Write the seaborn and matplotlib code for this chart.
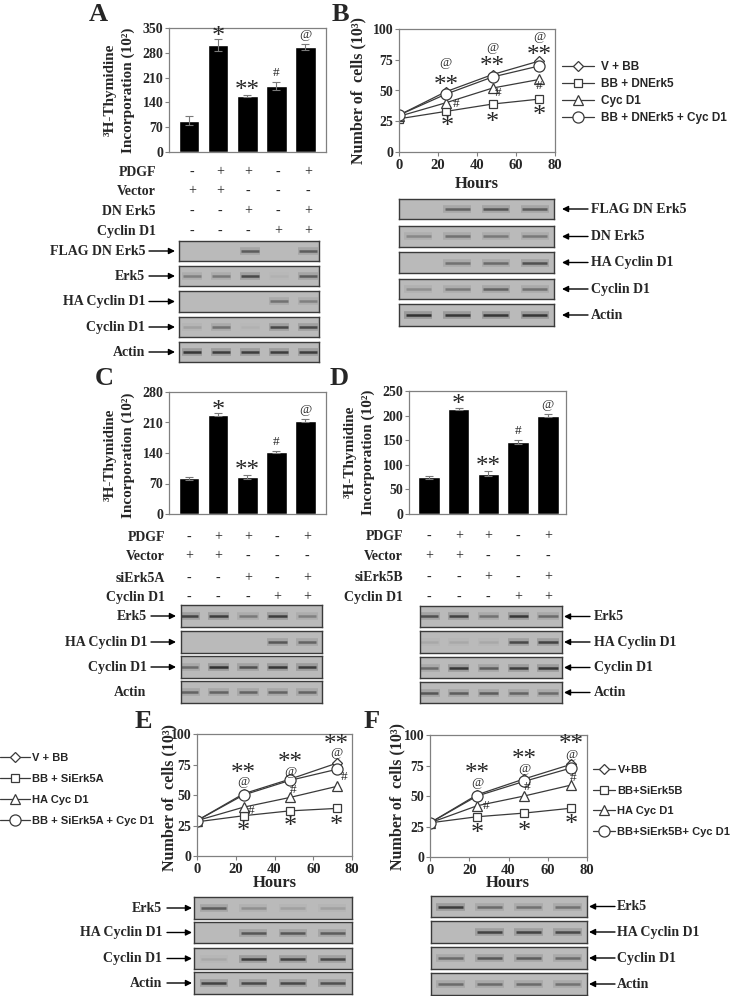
import numpy as np
import matplotlib.pyplot as plt
import seaborn as sns

sns.set_style("ticks")
plt.rcParams['font.family'] = ['Liberation Serif', 'DejaVu Serif']

W, H = 742, 996

# ---- data ----
signs_a = {'PDGF': '-++-+', 'Vector': '++---', 'DN Erk5': '--+-+', 'Cyclin D1': '---++'}
signs_c = {'PDGF': '-++-+', 'Vector': '++---', 'siErk5A': '--+-+', 'Cyclin D1': '---++'}
signs_d = {'PDGF': '-++-+', 'Vector': '++---', 'siErk5B': '--+-+', 'Cyclin D1': '---++'}
bar_marks = ['', '*', '**', '#', '@']

a_vals = [88, 302, 158, 186, 296]
a_errs = [13, 16, 3, 11, 9]
c_vals = [82, 228, 85, 143, 214]
c_errs = [4, 3, 5, 2, 4]
d_vals = [75, 213, 82, 146, 200]
d_errs = [3, 2, 5, 4, 3]

hours = [0, 24, 48, 72]
b_names = ['V + BB', 'BB + DNErk5', 'Cyc D1', 'BB + DNErk5 + Cyc D1']
b_vals = [[30, 49, 63, 74], [27, 33, 39, 43], [29, 40, 52, 59], [30, 47, 61, 70]]
e_names = ['V + BB', 'BB + SiErk5A', 'HA Cyc D1', 'BB + SiErk5A + Cyc D1']
e_vals = [[29, 51, 63, 76], [28, 33, 37, 39], [29, 40, 48, 57], [29, 50, 62, 71]]
f_names = ['V+BB', 'BB+SiErk5B', 'HA Cyc D1', 'BB+SiErk5B+ Cyc D1']
f_vals = [[28, 51, 64, 76], [28, 33, 36, 40], [28, 42, 50, 59], [28, 50, 62, 73]]
markers = ['D', 's', '^', 'o']
msizes = [5.5, 6, 7.5, 8]

# significance marks: (text, series, time index, dx px, dy px)
b_sig = [('@', 0, 1, 0, 29), ('**', 0, 1, 0, 11), ('#', 2, 1, 10, -1), ('*', 1, 1, 2, -10),
         ('@', 0, 2, 0, 27), ('**', 0, 2, 0, 13), ('#', 2, 2, 5, -5), ('*', 1, 2, 0, -14),
         ('@', 0, 3, 0, 24), ('**', 0, 3, 0, 10), ('#', 2, 3, 0, -7), ('*', 1, 3, 0, -12)]
e_sig = [('**', 0, 1, 0, 25), ('@', 0, 1, 0, 12), ('#', 2, 1, 8, -4), ('*', 1, 1, 0, -11),
         ('**', 0, 2, 0, 21), ('@', 0, 2, 0, 7), ('#', 2, 2, 3, 7), ('*', 1, 2, 0, -11),
         ('**', 0, 3, 0, 23), ('@', 0, 3, 0, 10), ('#', 2, 3, 8, 9), ('*', 1, 3, 0, -12)]
f_sig = [('**', 0, 1, 0, 26), ('@', 0, 1, 0, 12), ('#', 2, 1, 9, 0), ('*', 1, 1, 0, -12),
         ('**', 0, 2, 0, 24), ('@', 0, 2, 0, 10), ('#', 2, 2, 3, 9), ('*', 1, 2, 0, -14),
         ('**', 0, 3, 0, 24), ('@', 0, 3, 0, 9), ('#', 2, 3, 2, 7), ('*', 1, 3, 0, -12)]

# western blot band intensities (0-1) per lane
blot_a = {'FLAG DN Erk5': [0, 0, 0.6, 0, 0.6], 'Erk5': [0.35, 0.4, 0.75, 0.05, 0.6],
          'HA Cyclin D1': [0, 0, 0, 0.45, 0.35], 'Cyclin D1': [0.15, 0.45, 0.05, 0.75, 0.75],
          'Actin': [0.9, 0.85, 0.85, 0.85, 0.85]}
blot_b = {'FLAG DN Erk5': [0, 0.55, 0.65, 0.6], 'DN Erk5': [0.3, 0.45, 0.4, 0.4],
          'HA Cyclin D1': [0, 0.45, 0.5, 0.7], 'Cyclin D1': [0.25, 0.4, 0.55, 0.45],
          'Actin': [0.95, 0.9, 0.9, 0.9]}
blot_c = {'Erk5': [0.8, 0.85, 0.4, 0.85, 0.35], 'HA Cyclin D1': [0, 0, 0, 0.65, 0.55],
          'Cyclin D1': [0.5, 0.95, 0.7, 0.9, 0.85], 'Actin': [0.55, 0.55, 0.55, 0.55, 0.55]}
blot_d = {'Erk5': [0.7, 0.8, 0.45, 0.9, 0.5], 'HA Cyclin D1': [0.1, 0.1, 0.1, 0.75, 0.8],
          'Cyclin D1': [0.5, 0.9, 0.6, 0.85, 0.9], 'Actin': [0.65, 0.6, 0.6, 0.55, 0.5]}
blot_e = {'Erk5': [0.6, 0.25, 0.15, 0.15], 'HA Cyclin D1': [0, 0.65, 0.65, 0.6],
          'Cyclin D1': [0.1, 0.85, 0.8, 0.75], 'Actin': [0.8, 0.75, 0.75, 0.7]}
blot_f = {'Erk5': [0.85, 0.5, 0.45, 0.45], 'HA Cyclin D1': [0, 0.8, 0.8, 0.75],
          'Cyclin D1': [0.5, 0.65, 0.6, 0.5], 'Actin': [0.5, 0.5, 0.5, 0.45]}

fig = plt.figure(figsize=(W / 100, H / 100), dpi=100)
fig.patch.set_facecolor('white')
ov = fig.add_axes([0, 0, 1, 1], zorder=10)
ov.set_xlim(0, W)
ov.set_ylim(H, 0)
ov.axis('off')

SERIF = dict(family='Liberation Serif', weight='bold')
SANS = dict(family='Liberation Sans', weight='bold')


def rect(l, t, r, b):
    return [l / W, 1 - b / H, (r - l) / W, (b - t) / H]


def mark(ax, txt, xy, dx, dy):
    # stars sit high in the text box, so pull them down to centre the glyph
    if '*' in txt:
        fs = 19 if txt == '*' else 18
        dy -= 0.2 * fs * 100 / 72
    else:
        fs = 9.5
    ax.annotate(txt, xy, xytext=(dx, dy), textcoords='offset pixels', ha='center',
                va='center', fontsize=fs, family='Liberation Serif', annotation_clip=False)


def style_axes(ax, yticks):
    for s in ax.spines.values():
        s.set_color('#808080')
        s.set_linewidth(0.9)
    ax.set_yticks(yticks)
    ax.tick_params(axis='y', direction='out', length=3, width=0.8, color='#808080', pad=1)
    for t in ax.get_yticklabels():
        t.set_fontproperties(dict(SERIF, size=10))


def bar_panel(box, vals, errs, yticks, xlim):
    ax = fig.add_axes(rect(*box))
    idx = list(range(len(vals)))
    sns.barplot(x=idx, y=vals, color='black', saturation=1, width=0.72, errorbar=None, ax=ax)
    ax.errorbar(idx, vals, yerr=errs, fmt='none', ecolor='#7a7a7a', elinewidth=0.8,
                capsize=3, capthick=0.8)
    ax.set_xlim(*xlim)
    ax.set_ylim(yticks[0], yticks[-1])
    ax.set_xticks([])
    ax.set_xlabel('')
    style_axes(ax, yticks)
    off = {'*': 8, '**': 9, '#': 9, '@': 9}
    for i, m in enumerate(bar_marks):
        if m:
            mark(ax, m, (i, vals[i] + errs[i]), 0, off[m])
    return ax


def line_panel(box, vals, names, sig, leg_xy, leg_kw):
    ax = fig.add_axes(rect(*box))
    for v, n, mk, ms in zip(vals, names, markers, msizes):
        sns.lineplot(x=hours, y=v, ax=ax, color='#3a3a3a', lw=0.9, marker=mk, ms=ms,
                     markerfacecolor='white', markeredgecolor='#3a3a3a',
                     markeredgewidth=0.9, label=n)
    ax.set_xlim(0, 80)
    ax.set_ylim(0, 100)
    ax.set_xticks([0, 20, 40, 60, 80])
    style_axes(ax, [0, 25, 50, 75, 100])
    ax.tick_params(axis='x', direction='out', length=3, width=0.8, color='#808080', pad=2)
    for t in ax.get_xticklabels():
        t.set_fontproperties(dict(SERIF, size=10.5))
    for txt, s, ti, dx, dy in sig:
        mark(ax, txt, (hours[ti], vals[s][ti]), dx, dy)
    h, l = ax.get_legend_handles_labels()
    ax.legend(h, l, loc='upper left', bbox_to_anchor=(leg_xy[0] / W, 1 - leg_xy[1] / H),
              bbox_transform=fig.transFigure, frameon=False, borderpad=0, borderaxespad=0,
              prop=dict(SANS, size=leg_kw['size']), handlelength=leg_kw['hl'],
              handletextpad=leg_kw['pad'], labelspacing=leg_kw['sp'])
    return ax


def table(signs, rows_y, cols_x, label_x):
    for (name, s), y in zip(signs.items(), rows_y):
        ov.text(label_x, y, name, ha='right', va='center', fontsize=10, **SERIF)
        for ch, x in zip(s, cols_x):
            ov.text(x, y, ch, ha='center', va='center', fontsize=10, family='Liberation Serif')


def blot(xl, xr, rows, data, xlim, bg):
    for (t, b), (name, lanes) in zip(rows, data.items()):
        ax = fig.add_axes(rect(xl, t, xr, b))
        ax.set_facecolor(bg)
        for i, v in enumerate(lanes):
            ax.hlines(0, i - 0.36, i + 0.36, color='#202020', alpha=v * 0.22, lw=5.5)
            ax.hlines(0, i - 0.32, i + 0.32, color='#202020', alpha=v * 0.9, lw=1.8)
        ax.set_xlim(*xlim)
        ax.set_ylim(-1, 1)
        ax.set_xticks([])
        ax.set_yticks([])
        for s in ax.spines.values():
            s.set_color('#3a3a3a')
            s.set_linewidth(1)


def left_labels(rows, names, text_r, arr_l, arr_r, arrows=True):
    for (t, b), n in zip(rows, names):
        y = (t + b) / 2
        ov.text(text_r, y, n, ha='right', va='center', fontsize=10, **SERIF)
        if arrows:
            ov.annotate('', xy=(arr_r, y), xytext=(arr_l, y),
                        arrowprops=dict(arrowstyle='-|>', color='black', lw=1, mutation_scale=9,
                                        shrinkA=0, shrinkB=0))


def right_labels(rows, names, arr_l, arr_r, text_l):
    for (t, b), n in zip(rows, names):
        y = (t + b) / 2
        ov.text(text_l, y, n, ha='left', va='center', fontsize=10, **SERIF)
        ov.annotate('', xy=(arr_l, y), xytext=(arr_r, y),
                    arrowprops=dict(arrowstyle='-|>', color='black', lw=1, mutation_scale=9,
                                    shrinkA=0, shrinkB=0))


# ---- Panel A ----
bar_panel((169, 28, 326, 152), a_vals, a_errs, [0, 70, 140, 210, 280, 350], (-0.69, 4.72))
table(signs_a, [172, 191, 211, 231], [192, 220, 248, 278, 308], 156)
rows_a = [(241, 261), (266, 286), (291, 312), (317, 337), (342, 362)]
blot(179, 319, rows_a, blot_a, (-0.45, 4.38), '#bababa')
left_labels(rows_a, list(blot_a), 145, 149, 175)

# ---- Panel B ----
line_panel((399, 29, 555, 152), b_vals, b_names, b_sig, (562, 61),
           dict(size=8.5, hl=2.7, pad=0.6, sp=0.42))
rows_b = [(199, 219), (226, 247), (252, 273), (279, 299), (304, 326)]
blot(399, 554, rows_b, blot_b, (-0.5, 3.5), '#bababa')
right_labels(rows_b, list(blot_b), 562, 588, 591)

# ---- Panel C ----
bar_panel((169, 392, 326, 514), c_vals, c_errs, [0, 70, 140, 210, 280], (-0.69, 4.72))
table(signs_c, [537, 556, 578, 597], [189, 218, 248, 277, 307], 165)
rows_c = [(605, 627), (631, 653), (656, 678), (681, 703)]
blot(181, 322, rows_c, blot_c, (-0.27, 4.51), '#bababa')
left_labels(rows_c[:3], list(blot_c)[:3], 147, 151, 176)
ov.text(130, 692, 'Actin', ha='center', va='center', fontsize=10, **SERIF)

# ---- Panel D ----
bar_panel((409, 391, 566, 514), d_vals, d_errs, [0, 50, 100, 150, 200, 250], (-0.67, 4.61))
table(signs_d, [536, 556, 577, 597], [429, 459, 488, 518, 548], 403)
rows_d = [(606, 627), (631, 653), (657, 678), (682, 703)]
blot(420, 562, rows_d, blot_d, (-0.3, 4.47), '#bababa')
right_labels(rows_d, list(blot_d), 564, 590, 594)

# ---- Panel E ----
line_panel((197, 734, 352, 856), e_vals, e_names, e_sig, (0, 753),
           dict(size=8, hl=2.7, pad=0.2, sp=1.0))
rows_e = [(897, 919), (922, 943), (948, 969), (972, 994)]
blot(194, 352, rows_e, blot_e, (-0.5, 3.5), '#bababa')
left_labels(rows_e, list(blot_e), 162, 167, 192)

# ---- Panel F ----
line_panel((430, 735, 587, 857), f_vals, f_names, f_sig, (593, 765),
           dict(size=8, hl=2.0, pad=0.2, sp=0.95))
rows_f = [(896, 917), (921, 943), (947, 969), (973, 995)]
blot(431, 587, rows_f, blot_f, (-0.5, 3.5), '#bababa')
right_labels(rows_f, list(blot_f), 589, 615, 617)

# ---- axis titles & panel letters ----
for x1, x2, yc in [(110, 128, 90), (110, 128, 455), (350, 368, 452)]:
    ov.text(x1, yc, '³H-Thymidine', rotation=90, ha='center', va='center', fontsize=11, **SERIF)
    ov.text(x2, yc, 'Incorporation (10²)', rotation=90, ha='center', va='center', fontsize=11, **SERIF)
for x, yc in [(358, 90), (169, 797), (397, 796)]:
    ov.text(x, yc, 'Number of  cells (10³)', rotation=90, ha='center', va='center', fontsize=11.5, **SERIF)
for x, y in [(477, 184), (275, 883), (508, 883)]:
    ov.text(x, y, 'Hours', ha='center', va='center', fontsize=12, **SERIF)
for letter, x, y in [('A', 98, 14), ('B', 340, 14), ('C', 104, 378), ('D', 339, 378),
                     ('E', 143, 721), ('F', 372, 721)]:
    ov.text(x, y, letter, ha='center', va='center', fontsize=19, **SERIF)

fig.savefig('out.png', dpi=100)
